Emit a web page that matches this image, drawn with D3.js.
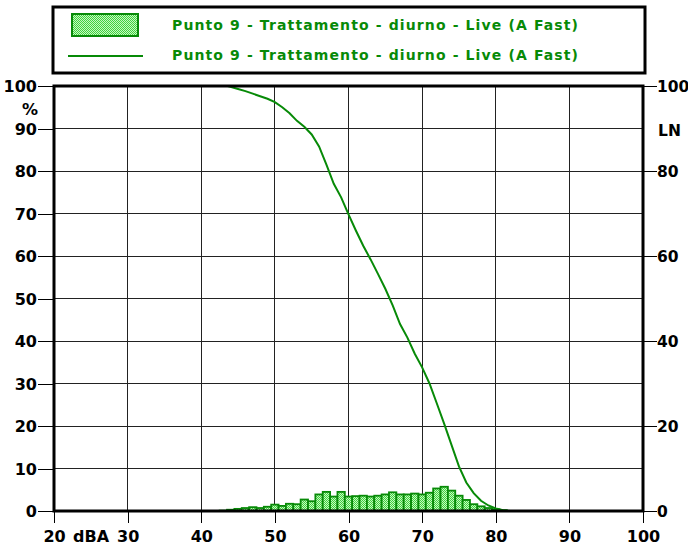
<!DOCTYPE html>
<html>
<head>
<meta charset="utf-8">
<script src="https://cdn.jsdelivr.net/npm/d3@7"></script>
<style>
  body { margin: 0; background: #fff; }
  svg text { font-family: "DejaVu Sans", sans-serif; font-weight: bold; }
</style>
</head>
<body>
<div id="chart"></div>
<script>
const seriesName = 'Punto 9 - Trattamento - diurno - Live (A Fast)';

// distribution (% per 1 dB class, centred on the class value)
const barLevels = d3.range(43, 82);
const barValues = [0.1, 0.3, 0.5, 0.7, 0.9, 0.7, 1.0, 1.5, 1.2, 1.7,
  1.6, 2.7, 2.3, 3.9, 4.5, 3.4, 4.5, 3.4, 3.5, 3.6,
  3.4, 3.6, 3.9, 4.4, 3.9, 3.9, 4.1, 3.9, 4.3, 5.3,
  5.7, 4.8, 3.6, 2.6, 1.6, 1.1, 0.7, 0.4, 0.2];

// cumulative LN curve
const lnLevels = [43.6, 45, 46, 47, 48, 49, 50, 51, 52, 53, 54, 55, 56, 57, 58, 59, 60,
  61, 62, 63, 64, 65, 66, 67, 68, 69, 70, 71, 72, 73, 74, 75, 76, 77, 78, 79, 80, 81, 82];
const lnValues = [100, 99.3, 98.8, 98.2, 97.6, 97.0, 96.2, 95.0, 93.6, 91.8, 90.4, 88.6, 85.8,
  81.5, 77.0, 73.8, 69.8, 66.0, 62.4, 59.2, 55.8, 52.3, 48.4, 44.0, 40.8, 37.0, 33.8,
  30.0, 25.3, 20.5, 15.5, 10.5, 6.7, 4.2, 2.4, 1.3, 0.6, 0.2, 0];

const xTicks = d3.range(20, 101, 10);
const yTicksLeft = d3.range(0, 101, 10);
const yTicksRight = d3.range(0, 101, 20);

const width = 688, height = 548;
const green = '#078a07';

const svg = d3.select('#chart').append('svg')
  .attr('width', width)
  .attr('height', height);

const x = d3.scaleLinear().domain([20, 100]).range([54, 643]);
const y = d3.scaleLinear().domain([0, 100]).range([511, 86]);

// dotted fill for the bars
const pat = svg.append('defs').append('pattern')
  .attr('id', 'dots')
  .attr('width', 2).attr('height', 2)
  .attr('patternUnits', 'userSpaceOnUse');
pat.append('rect').attr('width', 2).attr('height', 2).attr('fill', '#c6f7c0');
pat.append('rect').attr('width', 1).attr('height', 1).attr('fill', '#3fd23f');
pat.append('rect').attr('x', 1).attr('y', 1).attr('width', 1).attr('height', 1).attr('fill', '#3fd23f');

// legend
const legend = svg.append('g');
legend.append('rect')
  .attr('x', 53).attr('y', 7).attr('width', 592).attr('height', 66)
  .attr('fill', '#fff').attr('stroke', '#000').attr('stroke-width', 3);
legend.append('rect')
  .attr('x', 72).attr('y', 14).attr('width', 66).attr('height', 22)
  .attr('fill', 'url(#dots)').attr('stroke', green).attr('stroke-width', 2);
legend.append('line')
  .attr('x1', 68).attr('x2', 143).attr('y1', 56).attr('y2', 56)
  .attr('stroke', green).attr('stroke-width', 2);
legend.selectAll('text.leg')
  .data([30, 60])
  .join('text')
  .attr('class', 'leg')
  .attr('x', 172).attr('y', d => d)
  .attr('fill', green)
  .attr('font-size', 14)
  .attr('textLength', 406)
  .text(seriesName);

// grid
const grid = svg.append('g').attr('shape-rendering', 'crispEdges');
grid.selectAll('line.vx')
  .data(xTicks.slice(1, -1))
  .join('line')
  .attr('x1', d => x(d)).attr('x2', d => x(d))
  .attr('y1', y(100)).attr('y2', y(0))
  .attr('stroke', '#222').attr('stroke-width', 1);
grid.selectAll('line.hy')
  .data(yTicksLeft.slice(1, -1))
  .join('line')
  .attr('x1', x(20)).attr('x2', x(100))
  .attr('y1', d => y(d)).attr('y2', d => y(d))
  .attr('stroke', '#222').attr('stroke-width', 1);

// bars
svg.append('g').selectAll('rect')
  .data(barLevels)
  .join('rect')
  .attr('x', d => x(d - 0.5))
  .attr('width', d => x(d + 0.5) - x(d - 0.5))
  .attr('y', (d, i) => y(barValues[i]))
  .attr('height', (d, i) => y(0) - y(barValues[i]))
  .attr('fill', 'url(#dots)')
  .attr('stroke', green)
  .attr('stroke-width', 1.8);

// LN curve
svg.append('path')
  .datum(lnLevels)
  .attr('fill', 'none')
  .attr('stroke', green)
  .attr('stroke-width', 2)
  .attr('d', d3.line().x(d => x(d)).y((d, i) => y(lnValues[i])));

// axes
const styleAxis = (g, font, size) => {
  g.select('.domain').remove();
  g.selectAll('.tick line').attr('stroke', '#000').attr('shape-rendering', 'crispEdges');
  g.selectAll('.tick text').attr('fill', '#000').attr('font-size', size)
    .attr('font-family', font).attr('font-weight', 'bold');
};

svg.append('g')
  .attr('transform', `translate(${x(20)},0)`)
  .call(d3.axisLeft(y).tickValues(yTicksLeft).tickSize(16).tickPadding(1))
  .call(styleAxis, '"DejaVu Sans", sans-serif', 16)
  .selectAll('.tick text').attr('dy', '0.36em');

svg.append('g')
  .attr('transform', `translate(${x(100)},0)`)
  .call(d3.axisRight(y).tickValues(yTicksRight).tickSize(14).tickPadding(0))
  .call(styleAxis, '"Liberation Sans", sans-serif', 15.5)
  .selectAll('.tick text').attr('dy', '0.36em');

svg.append('g')
  .attr('transform', `translate(0,${y(0)})`)
  .call(d3.axisBottom(x).tickValues(xTicks).tickSize(12).tickPadding(8))
  .call(styleAxis, '"DejaVu Sans", sans-serif', 16);

// frame
svg.append('rect')
  .attr('x', x(20)).attr('y', y(100))
  .attr('width', x(100) - x(20)).attr('height', y(0) - y(100))
  .attr('fill', 'none').attr('stroke', '#000').attr('stroke-width', 3);

// unit labels
svg.append('text').attr('x', 30).attr('y', 115).attr('text-anchor', 'middle')
  .attr('font-size', 16).text('%');
svg.append('text').attr('x', 658).attr('y', 136)
  .attr('font-family', '"Liberation Sans", sans-serif')
  .attr('font-size', 15.5).text('LN');
svg.append('text').attr('x', 91).attr('y', 542).attr('text-anchor', 'middle')
  .attr('font-size', 16).text('dBA');
</script>
</body>
</html>
